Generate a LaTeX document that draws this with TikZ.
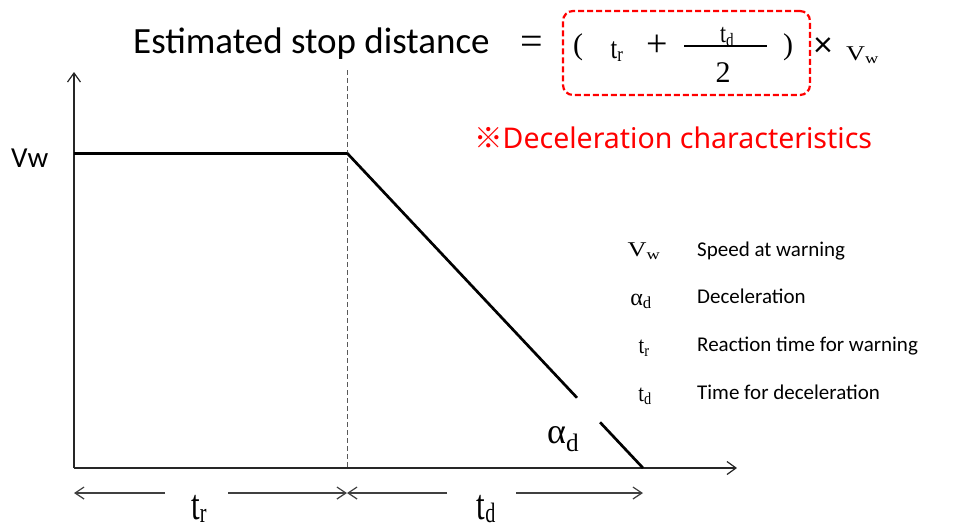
\documentclass[tikz,border=0pt]{standalone}
\usepackage{fontspec}
\usepackage{graphicx}
\setmainfont{Liberation Serif}
\newfontfamily\calfont{Carlito}
\newfontfamily\notefont{Noto Sans}
\newfontfamily\cjkfont{Noto Sans CJK JP}
\usetikzlibrary{arrows.meta,calc}
\definecolor{axisgray}{HTML}{262626}
\definecolor{dimgray}{HTML}{404040}
\newcommand\fs[1]{\fontsize{#1}{#1}\selectfont}
\newcommand\symb[4]{\scalebox{#1}[1]{\fs{#2}#3\textsubscript{#4}}}
\newcommand\bigsym[2]{\scalebox{0.72}[1]{\fs{43}#1\raisebox{-3pt}{\fs{28}#2}}}
\tikzset{
  axis/.style={draw=axisgray, line width=1.5pt, -{Straight Barb[length=9pt,width=13pt,line width=1.2pt]}},
  dimarrow/.style={draw=dimgray, line width=1.3pt, -{Straight Barb[length=9pt,width=12pt,line width=1.2pt]}},
  curve/.style={draw=black, line width=2.7pt},
  guide/.style={draw=black!65, line width=1pt, dash pattern=on 5pt off 3pt},
  sanstext/.style={inner sep=0pt, font=\calfont},
  serif/.style={inner sep=0pt},
  legtext/.style={sanstext, anchor=base west, font=\calfont\fs{21}},
  legsym/.style={serif, anchor=base},
  redbox/.style={draw=red, line width=2.2pt, dash pattern=on 6pt off 3pt, rounded corners=10pt, minimum width=247pt, minimum height=84pt, inner sep=0pt}
}
\begin{document}
\begin{tikzpicture}[x=1pt,y=-1pt]
\useasboundingbox (0,0) rectangle (953,531);

% formula
\node[sanstext, anchor=base west, font=\calfont\fs{37}] (title) at (133,53) {Estimated stop distance};
\node[serif] (eq) at (532,45) {\fs{40}=};
\node[redbox] (box) at (686.5,53) {};
\node[serif] (lp) at (578,47) {\fs{30}(};
\node[serif, anchor=base] (ftr) at (617,58) {\symb{0.8}{30}{t}{r}};
\node[serif] (plus) at (657,46) {\fs{38}+};
\node[serif, anchor=base] (ftd) at (727,42) {\symb{0.8}{27}{t}{d}};
\node[serif, anchor=base] (two) at (723,82) {\fs{30}2};
\coordinate (barL) at (684,46);
\coordinate (barR) at (767,46);
\draw[line width=1.4pt] (barL) -- (barR);
\node[serif] (rp) at (788,47) {\fs{30})};
\node[sanstext] (times) at (823,47) {\calfont\fs{36}×};
\node[serif, anchor=base west] (fvw) at (846,60) {\symb{1.25}{21}{V}{w}};

% red note
\node[anchor=base west, inner sep=0pt, text=red] (note) at (474,148) {\fs{28.5}{\cjkfont ※}\notefont Deceleration characteristics};

% axes and chart
\coordinate (O) at (74,468);
\coordinate (Ytop) at (74,72);
\coordinate (Xend) at (737,468);
\coordinate (A) at (74,153);
\coordinate (B) at (347,153);
\coordinate (C) at (643,468);
\coordinate (Dtop) at (347,70);
\coordinate (Dbot) at (347,468);
\draw[guide] (Dtop) -- (Dbot);
\draw[axis] (O) -- (Ytop);
\draw[axis] (O) -- (Xend);
\draw[curve, line width=3pt] (A) -- (B);
\draw[curve] (B) -- ($(B)!0.777!(C)$);
\draw[curve] ($(B)!0.855!(C)$) -- (C);

\node[sanstext, anchor=base west, font=\calfont\fs{29}] (vw) at (11,167) {Vw};
\node[serif, anchor=base west] (alpha) at (547,443) {\fs{36}α\textsubscript{d}};

% dimension arrows
\node[serif, anchor=base] (tr) at (199,519) {\bigsym{t}{r}};
\node[serif, anchor=base] (td) at (486,519) {\bigsym{t}{d}};
\coordinate (L0) at (74,493);
\coordinate (L1) at (165,493);
\coordinate (L2) at (228,493);
\coordinate (M) at (347,493);
\coordinate (R1) at (447,493);
\coordinate (R2) at (516,493);
\coordinate (R3) at (643,493);
\draw[dimarrow] (L1) -- (L0);
\draw[dimarrow] (L2) -- (M);
\draw[dimarrow] (R1) -- (M);
\draw[dimarrow] (R2) -- (R3);

% legend
\node[legsym] (s1) at (644,256) {\symb{1.25}{21}{V}{w}};
\node[legsym] (s2) at (641,305) {\fs{24}α\textsubscript{d}};
\node[legsym] (s3) at (644,353) {\symb{0.85}{24}{t}{r}};
\node[legsym] (s4) at (645,401) {\symb{0.85}{24}{t}{d}};
\node[legtext] (l1) at (697,256) {Speed at warning};
\node[legtext] (l2) at (697,303) {Deceleration};
\node[legtext] (l3) at (697,351) {Reaction time for warning};
\node[legtext] (l4) at (697,399) {Time for deceleration};
\end{tikzpicture}
\end{document}
